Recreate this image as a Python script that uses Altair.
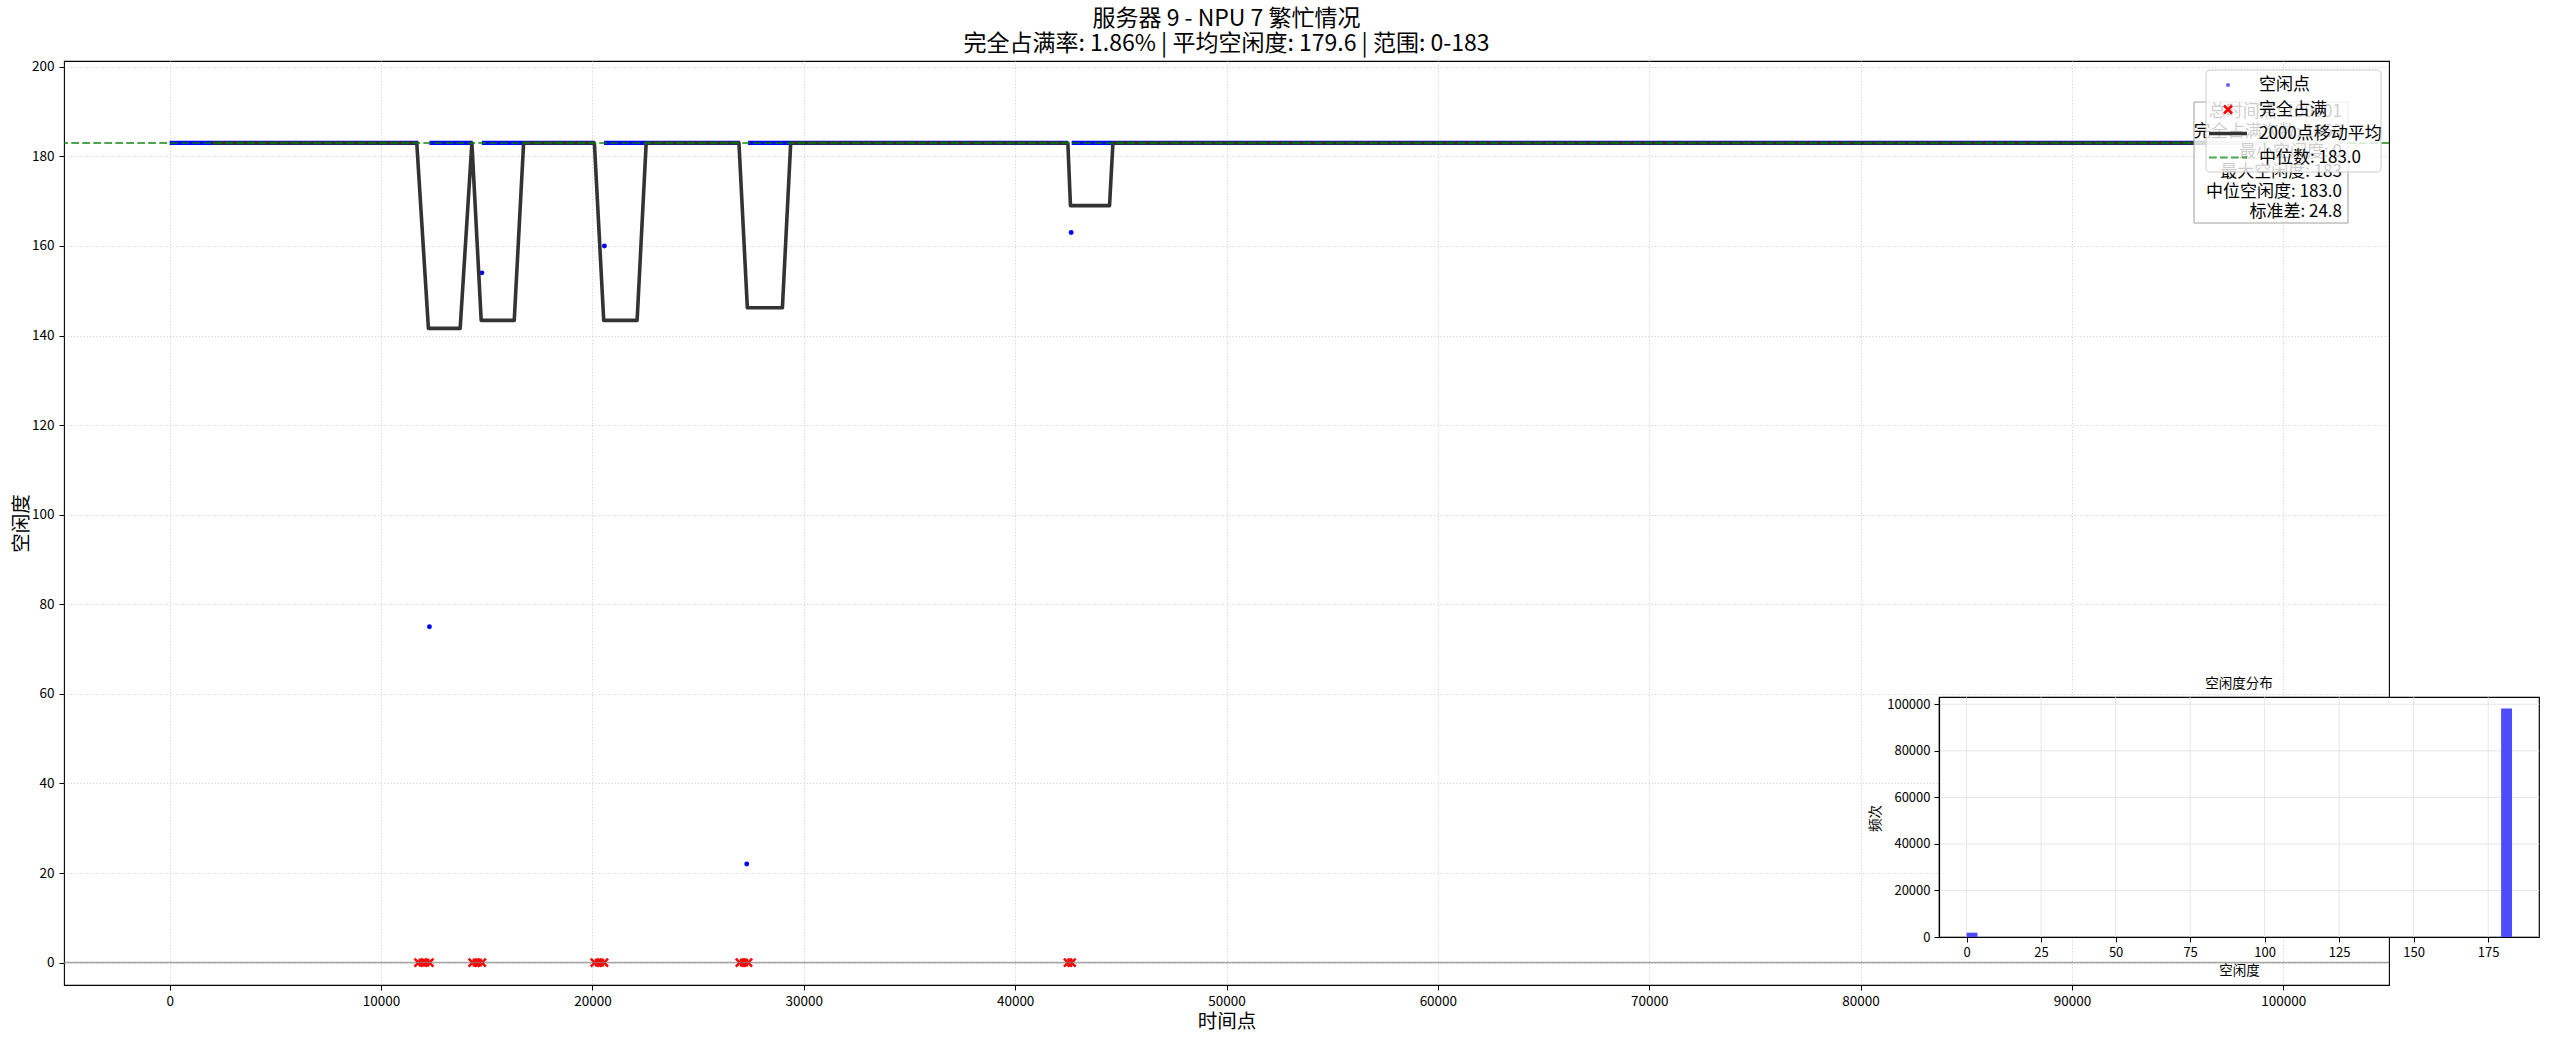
import altair as alt
import pandas as pd

FONT = "Noto Sans CJK SC"

# ---------------- data ----------------
title_lines = ["服务器 9 - NPU 7 繁忙情况", "完全占满率: 1.86% | 平均空闲度: 179.6 | 范围: 0-183"]

idle_level = 183
idle_seg_start = [0, 12290, 14770, 20550, 27365, 42675]
idle_seg_end = [11770, 14330, 20110, 26975, 42500, 100000]

busy_start = [11770, 14330, 20110, 26975, 42500]
busy_end = [12290, 14770, 20550, 27365, 42675]

outlier_x = [12290, 14771, 20568, 27300, 42651]
outlier_y = [75, 154, 160, 22, 163]

ma_x = [1999, 11690, 12241, 13743, 14298, 14738, 16302, 16745, 20093, 20535, 22115,
        22544, 26933, 27330, 28989, 29382, 42494, 42618, 44466, 44627, 100000]
ma_y = [183, 183, 141.6, 141.6, 183, 143.4, 143.4, 183, 183, 143.4, 143.4,
        183, 183, 146.2, 146.2, 183, 183, 169.0, 169.0, 183, 183]

median_value = 183.0

x_ticks = [0, 10000, 20000, 30000, 40000, 50000, 60000, 70000, 80000, 90000, 100000]
y_ticks = [0, 20, 40, 60, 80, 100, 120, 140, 160, 180, 200]

hist_bin_start = [0.0, 21.96, 73.2, 153.72, 157.38, 161.04, 179.34]
hist_bin_end = [3.66, 25.62, 76.86, 157.38, 161.04, 164.7, 183.0]
hist_count = [1860, 1, 1, 1, 1, 1, 98136]
inset_x_ticks = [0, 25, 50, 75, 100, 125, 150, 175]
inset_y_ticks = [0, 20000, 40000, 60000, 80000, 100000]

legend_labels = ["空闲点", "完全占满", "2000点移动平均", "中位数: 183.0"]
stats_lines = ["总时间点: 100001", "完全占满次数: 1860", "最小空闲度: 0",
               "最大空闲度: 183", "中位空闲度: 183.0", "标准差: 24.8"]
inset_title = "空闲度分布"

# ---------------- layout ----------------
W, H = 2325, 924
XPATH = "M-1,-1L1,1M1,-1L-1,1"

xs = alt.Scale(domain=[-5000, 105000], nice=False, zero=False)
ys = alt.Scale(domain=[-5, 201.3], nice=False, zero=False)

x_axis = alt.Axis(values=x_ticks, format="d", title="时间点", titleFontSize=19.5,
                  titleFont=FONT, titleFontWeight="normal", titleX=1162.5, titleY=36,
                  titleBaseline="middle", titleAlign="center",
                  labelFont=FONT, labelFontSize=13.5, labelPadding=4, labelColor="black",
                  tickSize=5, tickColor="black", domain=False,
                  grid=True, gridDash=[1.2, 2], gridColor="#d4d4d4", gridWidth=1)
y_axis = alt.Axis(values=y_ticks, format="d", title="空闲度", titleFontSize=19.5,
                  titleFont=FONT, titleFontWeight="normal", titleX=-43, titleY=462,
                  titleAngle=270, titleBaseline="middle", titleAlign="center",
                  labelFont=FONT, labelFontSize=13.5, labelPadding=5, labelColor="black",
                  tickSize=5, tickColor="black", domain=False,
                  grid=True, gridDash=[1.2, 2], gridColor="#d4d4d4", gridWidth=1)

X = lambda f: alt.X(f, scale=xs, axis=x_axis)
Y = lambda f: alt.Y(f, scale=ys, axis=y_axis)

idle_df = pd.DataFrame({"xs": idle_seg_start, "xe": idle_seg_end,
                        "y": [idle_level] * len(idle_seg_start)})
busy_df = pd.DataFrame({"xs": busy_start, "xe": busy_end, "y": [0] * len(busy_start)})
busy_pts = pd.DataFrame({"x": busy_start + busy_end, "y": [0] * (2 * len(busy_start))})
out_df = pd.DataFrame({"x": outlier_x, "y": outlier_y})
ma_df = pd.DataFrame({"x": ma_x, "y": ma_y})
med_df = pd.DataFrame({"y": [median_value]})
zero_df = pd.DataFrame({"y": [0]})

idle_band = alt.Chart(idle_df).mark_rule(color="#0000ff", strokeWidth=4.3, strokeCap="butt").encode(
    x=X("xs:Q"), x2="xe:Q", y=Y("y:Q"))
outliers = alt.Chart(out_df).mark_circle(color="#0000ff", size=24, opacity=1).encode(
    x=X("x:Q"), y=Y("y:Q"))
busy_band = alt.Chart(busy_df).mark_rule(color="#ff0000", strokeWidth=8, strokeCap="butt").encode(
    x=X("xs:Q"), x2="xe:Q", y=Y("y:Q"))
busy_marks = alt.Chart(busy_pts).mark_point(shape=XPATH, filled=False, color="#ff0000",
                                            strokeWidth=2.5, size=64, opacity=1).encode(
    x=X("x:Q"), y=Y("y:Q"))
ma_line = alt.Chart(ma_df).mark_line(color="#333333", strokeWidth=3.6, strokeJoin="round").encode(
    x=X("x:Q"), y=Y("y:Q"))
med_line = alt.Chart(med_df).mark_rule(color="#008000", opacity=0.7, strokeWidth=2.1,
                                       strokeDash=[7.7, 3.3]).encode(y=Y("y:Q"))
zero_line = alt.Chart(zero_df).mark_rule(color="#808080", opacity=0.7, strokeWidth=1.5).encode(
    y=Y("y:Q"))

main = alt.layer(idle_band, outliers, busy_band, busy_marks, ma_line, med_line, zero_line)

# ---------------- stats box & legend (decorations, view pixel coords) ----------------
one = pd.DataFrame({"t": [""]})
deco = []
deco.append(alt.Chart(one).mark_rect(fill="white", fillOpacity=0.8, stroke="#a0a0a0",
                                     strokeWidth=1).encode(
    x=alt.value(2130), x2=alt.value(2284), y=alt.value(41), y2=alt.value(162)))
for i, line in enumerate(stats_lines):
    deco.append(alt.Chart(pd.DataFrame({"t": [line]})).mark_text(
        align="right", baseline="middle", font=FONT, fontSize=17, color="black").encode(
        x=alt.value(2278), y=alt.value(51 + 20 * i), text="t:N"))

deco.append(alt.Chart(one).mark_rect(fill="white", fillOpacity=0.8, stroke="#cccccc",
                                     strokeWidth=1, cornerRadius=4).encode(
    x=alt.value(2142), x2=alt.value(2317), y=alt.value(9), y2=alt.value(111)))
leg_y = [24, 48.5, 72.5, 96.5]
deco.append(alt.Chart(one).mark_circle(color="#0000ff", opacity=0.6, size=18).encode(
    x=alt.value(2164), y=alt.value(leg_y[0])))
deco.append(alt.Chart(one).mark_point(shape=XPATH, filled=False, color="#ff0000",
                                      strokeWidth=2.5, size=64, opacity=1).encode(
    x=alt.value(2164), y=alt.value(leg_y[1])))
deco.append(alt.Chart(one).mark_rule(color="#333333", strokeWidth=3.6).encode(
    x=alt.value(2145), x2=alt.value(2183), y=alt.value(leg_y[2])))
deco.append(alt.Chart(one).mark_rule(color="#008000", opacity=0.7, strokeWidth=2.1,
                                     strokeDash=[7.7, 3.3]).encode(
    x=alt.value(2145), x2=alt.value(2183), y=alt.value(leg_y[3])))
for i, lab in enumerate(legend_labels):
    deco.append(alt.Chart(pd.DataFrame({"t": [lab]})).mark_text(
        align="left", baseline="middle", font=FONT, fontSize=17, color="black").encode(
        x=alt.value(2195), y=alt.value(leg_y[i]), text="t:N"))

# ---------------- inset histogram ----------------
ixs = alt.Scale(domain=[-9.15, 192.15], range=[1875.3, 2475.3], nice=False, zero=False)
iys = alt.Scale(domain=[0, 103000], range=[876, 636.3], nice=False, zero=False)
ix_axis = alt.Axis(orient="bottom", offset=-48, values=inset_x_ticks, format="d",
                   title="空闲度", titleFont=FONT, titleFontSize=13.5, titleFontWeight="normal",
                   titleX=2175, titleY=33, titleBaseline="middle", titleAlign="center",
                   labelFont=FONT, labelFontSize=13, labelPadding=4, labelColor="black",
                   tickSize=5, tickColor="black", domain=True, domainColor="black",
                   domainWidth=1.2, grid=False, zindex=1)
iy_axis = alt.Axis(orient="left", offset=-1875, values=inset_y_ticks, format="d",
                   title="频次", titleFont=FONT, titleFontSize=13.5, titleFontWeight="normal",
                   titleX=-64, titleY=757, titleAngle=270, titleBaseline="middle",
                   titleAlign="center",
                   labelFont=FONT, labelFontSize=13, labelPadding=4, labelColor="black",
                   tickSize=5, tickColor="black", domain=True, domainColor="black",
                   domainWidth=1.2, grid=False, zindex=1)
IX = lambda f: alt.X(f, scale=ixs, axis=ix_axis)
IY = lambda f: alt.Y(f, scale=iys, axis=iy_axis)

frame_df = pd.DataFrame({"x0": [-9.15], "x1": [192.15], "y0": [0], "y1": [103000]})
vgrid_df = pd.DataFrame({"x": inset_x_ticks, "y0": [0] * len(inset_x_ticks),
                         "y1": [103000] * len(inset_x_ticks)})
hgrid_df = pd.DataFrame({"y": inset_y_ticks, "x0": [-9.15] * len(inset_y_ticks),
                         "x1": [192.15] * len(inset_y_ticks)})
hist_df = pd.DataFrame({"b0": hist_bin_start, "b1": hist_bin_end, "c": hist_count,
                        "z": [0] * len(hist_count)})

inset_bg = alt.Chart(frame_df).mark_rect(fill="white", stroke="black", strokeWidth=1.2).encode(
    x=IX("x0:Q"), x2="x1:Q", y=IY("y0:Q"), y2="y1:Q")
inset_vgrid = alt.Chart(vgrid_df).mark_rule(color="#e6e6e6", strokeWidth=1).encode(
    x=IX("x:Q"), y=IY("y0:Q"), y2="y1:Q")
inset_hgrid = alt.Chart(hgrid_df).mark_rule(color="#e6e6e6", strokeWidth=1).encode(
    y=IY("y:Q"), x=IX("x0:Q"), x2="x1:Q")
inset_bars = alt.Chart(hist_df).mark_rect(color="#4d4dff").encode(
    x=IX("b0:Q"), x2="b1:Q", y=IY("z:Q"), y2="c:Q")
inset = alt.layer(inset_bg, inset_vgrid, inset_hgrid, inset_bars)

inset_title_txt = alt.Chart(pd.DataFrame({"t": [inset_title]})).mark_text(
    align="center", baseline="middle", font=FONT, fontSize=13.5, color="black").encode(
    x=alt.value(2175), y=alt.value(623), text="t:N")

chart = alt.layer(main, *deco, inset, inset_title_txt).resolve_scale(
    x="independent", y="independent"
).properties(
    width=W, height=H,
    title=alt.TitleParams(text=title_lines, font=FONT, fontSize=23, fontWeight="normal",
                          anchor="middle", frame="group", lineHeight=24.5, offset=4,
                          color="black"),
    autosize=alt.AutoSizeParams(type="none"),
    padding={"left": 64, "top": 61, "right": 160, "bottom": 55},
    background="white",
).configure_view(stroke="black", strokeWidth=1.1)

chart.save("out.html", embed_options={"renderer": "svg", "actions": False})
